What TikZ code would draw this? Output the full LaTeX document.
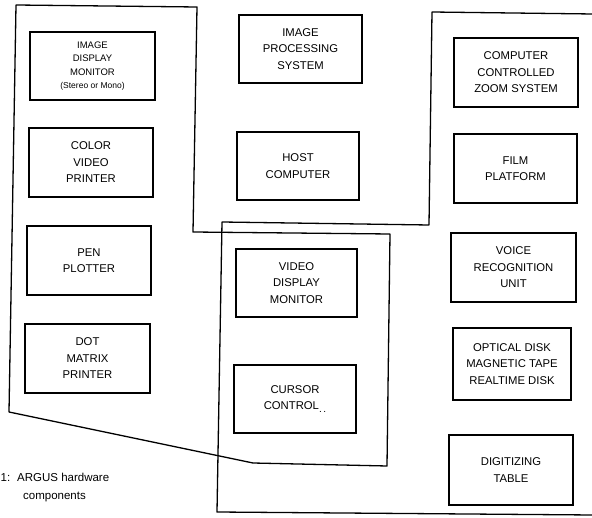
\documentclass[tikz,border=0pt]{standalone}
\usepackage{fontspec}
\setmainfont{Liberation Sans}
\begin{document}
\begin{tikzpicture}[x=1pt,y=-1pt,
  unit/.style={draw, line width=1.2pt, align=center, inner sep=0pt,
    font=\fontsize{11.3}{16.5}\selectfont},
  small/.style={font=\fontsize{9.5}{13.5}\selectfont},
  sz/.style 2 args={minimum width=#1pt, minimum height=#2pt},
  outline/.style={line width=1.3pt, line join=round},
  caption/.style={anchor=base west, inner sep=0pt, font=\fontsize{11.5}{14}\selectfont}]
\useasboundingbox (0,0) rectangle (592,518);
% left column
\node[unit, small, sz={125}{68}] (idm) at (92.5,66) {IMAGE\\DISPLAY\\MONITOR\\{\fontsize{8.5}{13}\selectfont (Stereo or Mono)}};
\node[unit, sz={124}{69}] (cvp) at (91,162.5) {COLOR\\VIDEO\\PRINTER};
\node[unit, sz={124}{69}] (pen) at (89,260.5) {PEN\\PLOTTER};
\node[unit, sz={125}{69}] (dot) at (87.5,358.5) {DOT\\MATRIX\\PRINTER};
% middle column
\node[unit, sz={123}{68}] (ips) at (300.5,49) {IMAGE\\PROCESSING\\SYSTEM};
\node[unit, sz={122}{68}] (host) at (298,166) {HOST\\COMPUTER};
\node[unit, sz={121}{68}] (vdm) at (296.5,283) {VIDEO\\DISPLAY\\MONITOR};
\node[unit, sz={122}{68}] (cur) at (295,399) {CURSOR\\CONTROL\raisebox{-2.5pt}{\fontsize{10}{10}\selectfont .\,.}};
% right column
\node[unit, sz={124}{69}] (zoom) at (516,72.5) {COMPUTER\\CONTROLLED\\ZOOM SYSTEM};
\node[unit, sz={123}{69}] (film) at (515.5,168.5) {FILM\\PLATFORM};
\node[unit, sz={125}{69}] (voice) at (513.5,267.5) {VOICE\\RECOGNITION\\UNIT};
\node[unit, sz={118}{72}] (opt) at (512,364) {OPTICAL DISK\\MAGNETIC TAPE\\REALTIME DISK};
\node[unit, sz={124}{70}] (dig) at (511,470) {DIGITIZING\\TABLE};
% group outlines
\coordinate (a1) at (16,5);
\coordinate (a2) at (197,7);
\coordinate (a3) at (193,232);
\coordinate (a4) at (390,234);
\coordinate (a5) at (387,466);
\coordinate (a6) at (253,463);
\coordinate (a7) at (9,412);
\draw[outline] (a1) -- (a2) -- (a3) -- (a4) -- (a5) -- (a6) -- (a7) -- cycle;
\coordinate (c1) at (593,14);
\coordinate (c2) at (432,12);
\coordinate (c3) at (429,225);
\coordinate (c4) at (222,222);
\coordinate (c5) at (217,512);
\coordinate (c6) at (593,515);
\draw[outline] (c1) -- (c2) -- (c3) -- (c4) -- (c5) -- (c6);
% caption
\node[caption] (cap1) at (0.5,482) {1:};
\node[caption] (cap2) at (17,482) {ARGUS hardware};
\node[caption] (cap3) at (23,500) {components};
\end{tikzpicture}
\end{document}
